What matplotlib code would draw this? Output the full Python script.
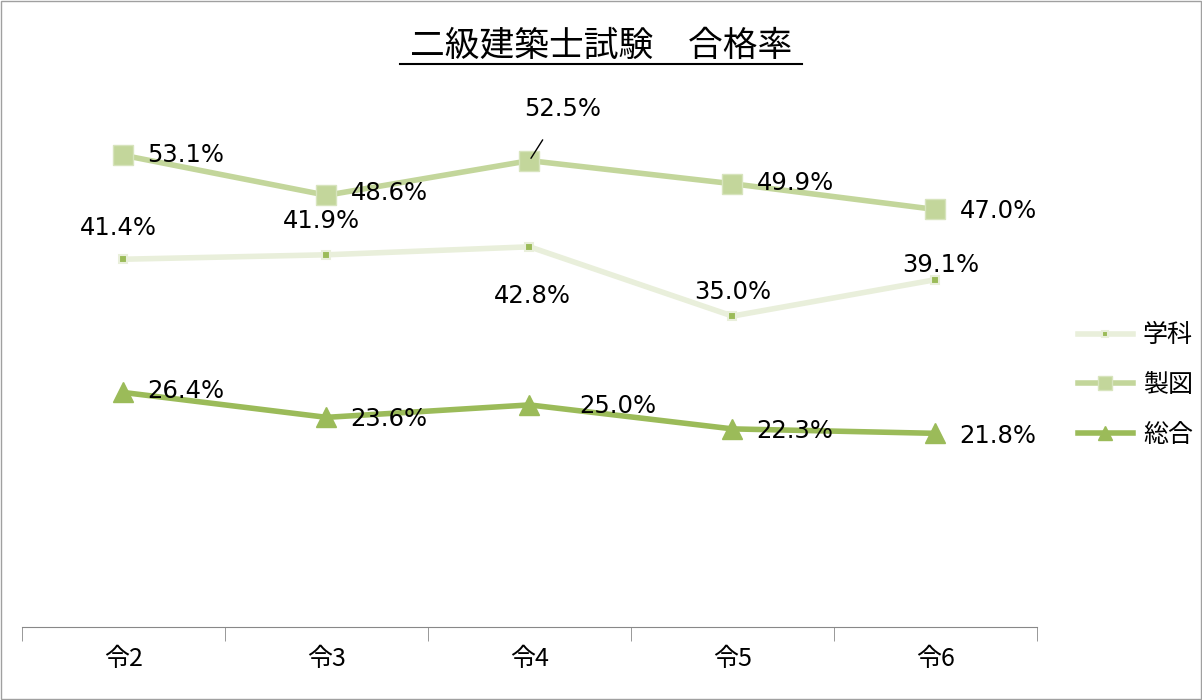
import matplotlib
matplotlib.use("Agg")
import matplotlib.pyplot as plt
from matplotlib.patches import Rectangle

plt.rcParams['font.family'] = ['Noto Sans CJK JP', 'DejaVu Sans']

categories = ['令2', '令3', '令4', '令5', '令6']
gakka = [41.4, 41.9, 42.8, 35.0, 39.1]
seizu = [53.1, 48.6, 52.5, 49.9, 47.0]
sougou = [26.4, 23.6, 25.0, 22.3, 21.8]

fig = plt.figure(figsize=(12.02, 7), dpi=100)
fig.patches.append(Rectangle((0.001, 0.001), 0.998, 0.998, transform=fig.transFigure,
                             fill=False, edgecolor='#a0a0a0', lw=1))
ax = fig.add_axes([0.0183, 0.1043, 0.8444, 0.7614])
x = list(range(len(categories)))

l1, = ax.plot(x, gakka, color='#e9efdb', lw=4, marker='s', ms=6,
              mfc='#9bbb59', mec='#e9efdb', mew=1.5, label='学科')
l2, = ax.plot(x, seizu, color='#c3d69b', lw=4, marker='s', ms=14,
              mfc='#c3d69b', mec='#d7e4bd', label='製図')
l3, = ax.plot(x, sougou, color='#9bbb59', lw=4, marker='^', ms=14,
              mfc='#9bbb59', mec='#9bbb59', label='総合')

fs = 17.5
def lab(xi, v, dx, dy, ha='center'):
    ax.annotate(f'{v:.1f}%', (xi, v), xytext=(dx, dy), textcoords='offset pixels',
                ha=ha, va='center', fontsize=fs, family='DejaVu Sans')

g_off = [(-5, 31), (-5, 34), (3, -49), (0, 24), (5, 15)]
for i, v in enumerate(gakka):
    lab(i, v, *g_off[i])
s_off = [(24, 0), (24, 2), (0, 0), (24, 1), (24, -2)]
for i, v in enumerate(seizu):
    if i == 2:
        ax.annotate(f'{v:.1f}%', (i, v), xytext=(33, 52), textcoords='offset pixels',
                    ha='center', va='center', fontsize=fs, family='DejaVu Sans',
                    arrowprops=dict(arrowstyle='-', color='black', lw=1,
                                    shrinkA=14, shrinkB=2))
    else:
        lab(i, v, *s_off[i], ha='left')
t_off = [(24, 1), (24, -2), (50, -1), (24, -2), (24, -3)]
for i, v in enumerate(sougou):
    lab(i, v, *t_off[i], ha='left')

ax.set_xlim(-0.5, 4.5)
ax.set_ylim(0, 60)
ax.set_yticks([])
for s in ['top', 'right', 'left']:
    ax.spines[s].set_visible(False)
ax.spines['bottom'].set_color('#888888')
ax.set_xticks(x)
ax.set_xticklabels(categories, fontsize=18)
ax.tick_params(axis='x', which='major', length=0, pad=14)
ax.set_xticks([-0.5, 0.5, 1.5, 2.5, 3.5, 4.5], minor=True)
ax.tick_params(axis='x', which='minor', length=10, color='#888888')

fig.text(0.5, 0.933, '二級建築士試験　合格率', ha='center', va='center', fontsize=25)
fig.lines.append(plt.Line2D([0.333, 0.667], [0.908, 0.908], transform=fig.transFigure,
                            color='black', lw=1.5))

fig.legend(handles=[l1, l2, l3], loc='center left', bbox_to_anchor=(0.878, 0.45),
           frameon=False, fontsize=18, handlelength=2.2, labelspacing=0.95,
           handletextpad=0.4, markerscale=0.7)
fig.savefig('out.png', dpi=100)
